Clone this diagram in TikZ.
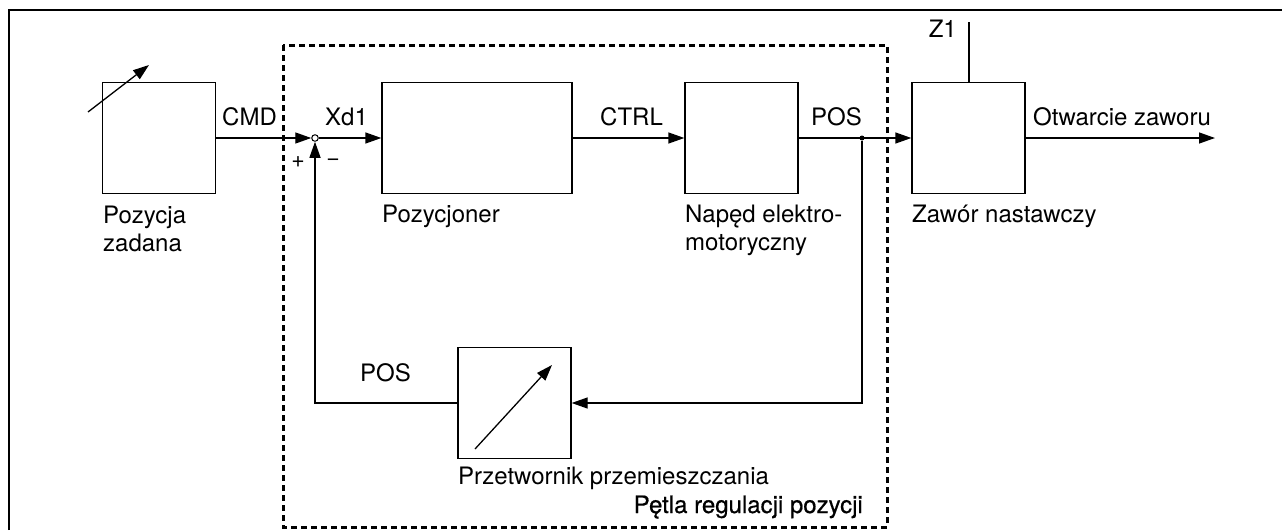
\documentclass[tikz,border=0pt]{standalone}
\usepackage{fontspec}
\setmainfont{TeX Gyre Heros}
\newfontfamily\medfont[FakeBold=0.6]{TeX Gyre Heros}
\usetikzlibrary{positioning, arrows.meta, calc}

\begin{document}
\begin{tikzpicture}[
  x=1pt, y=-1pt,
  blok/.style={draw, line width=1.3pt, minimum width=113pt, minimum height=111pt, inner sep=0pt},
  sig/.style={line width=1.3pt, -{Triangle[length=16pt,width=11pt]}},
  wire/.style={line width=1.3pt},
  lbl/.style={inner sep=0pt, font=\fontsize{24}{28}\selectfont},
  pm/.style={inner sep=0pt, font=\fontsize{23}{23}\selectfont}
]
  \useasboundingbox (0,0) rectangle (1282,530);
  % outer frame (only top and left edge in view)
  \draw[wire] (9,530) -- (9,10) -- (1282,10);
  % position loop frame
  \draw[line width=3pt, dash pattern=on 6pt off 4pt] (283,45) rectangle (887,527);

  % blocks
  \node[blok] (zad) at (159,138) {};
  \node[blok, minimum width=190pt] (poz) at (477,138) {};
  \node[blok] (nap) at (741.5,138) {};
  \node[blok] (zaw) at (968.5,138) {};
  \node[blok] (prz) at (514.5,403) {};

  % junction and branch point
  \node[circle, draw, fill=white, line width=1pt, minimum size=6.5pt, inner sep=0pt] (sum) at (315,138) {};
  \node[circle, fill, minimum size=5pt, inner sep=0pt] (rozg) at (862,138) {};
  \coordinate (wyj) at (1215,138);
  \coordinate (z1) at (969,22);

  % signals
  \draw[sig] (zad) -- (sum);
  \draw[sig] (sum) -- (poz);
  \draw[sig] (poz) -- (nap);
  \draw[sig] (nap) -- (zaw);
  \draw[sig] (zaw) -- (wyj);
  \draw[wire] (z1) -- (zaw.north -| z1);
  \draw[sig] (rozg) |- (prz);
  \draw[sig] (prz) -| (sum);

  % adjustable arrows
  \draw[sig] (88,112) -- (149,65);
  \draw[sig] (475,449) -- (552,365);

  % signal names
  \node[lbl, anchor=base west] (cmd) at (222,125) {CMD};
  \node[lbl, anchor=base west] (xd) at (325,125) {Xd1};
  \node[lbl, anchor=base west] (ctrl) at (600,125) {CTRL};
  \node[lbl, anchor=base west] (pos1) at (811,125) {POS};
  \node[lbl, anchor=base west] (otw) at (1033,125) {Otwarcie zaworu};
  \node[lbl, anchor=base east] (z1t) at (957,37) {Z1};
  \node[lbl, anchor=base west] (pos2) at (360,381) {POS};
  \node[pm] (plus) at (298,162) {+};
  \node[pm] (minus) at (333,162) {−};

  % block names
  \node[lbl, anchor=north west, align=left] (zad-t) at (103,206) {Pozycja\\zadana};
  \node[lbl, anchor=base west] (poz-t) at (382,222) {Pozycjoner};
  \node[lbl, anchor=north west, align=left] (nap-t) at (685,205) {Napęd elektro-\\motoryczny};
  \node[lbl, anchor=base west] (zaw-t) at (912,222) {Zawór nastawczy};
  \node[lbl, anchor=base west] (prz-t) at (458,484) {Przetwornik przemieszczania};
  \node[lbl, anchor=base east, font=\medfont\fontsize{24}{28}\selectfont] (petla) at (863,513) {Pętla regulacji pozycji};
\end{tikzpicture}
\end{document}
